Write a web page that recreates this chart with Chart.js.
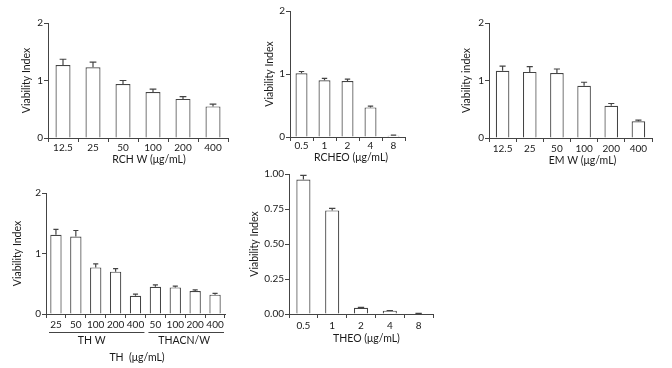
<!DOCTYPE html>
<html><head><meta charset="utf-8">
<script src="https://cdn.jsdelivr.net/npm/chart.js@4.4.1/dist/chart.umd.min.js"></script>
<style>
html,body{margin:0;padding:0;background:#fff;width:672px;height:368px;overflow:hidden}
#wrap{position:relative;width:672px;height:368px}
#wrap canvas{position:absolute;left:0;top:0}
</style></head>
<body>
<div id="wrap"></div>
<script>
// ---------- DATA ----------
// Panel A: RCH W
const rchwLabels = ['12.5','25','50','100','200','400'];
const rchwValues = [1.27, 1.23, 0.94, 0.80, 0.68, 0.55];
const rchwErrors = [0.10, 0.09, 0.06, 0.05, 0.04, 0.04];
// Panel B: RCHEO
const rcheoLabels = ['0.5','1','2','4','8'];
const rcheoValues = [1.01, 0.90, 0.89, 0.47, 0.02];
const rcheoErrors = [0.03, 0.03, 0.03, 0.02, 0.01];
// Panel C: EM W
const emwLabels = ['12.5','25','50','100','200','400'];
const emwValues = [1.17, 1.15, 1.13, 0.91, 0.56, 0.29];
const emwErrors = [0.08, 0.09, 0.07, 0.06, 0.04, 0.02];
// Panel D: TH W and THACN/W
const thLabels = ['25','50','100','200','400','50','100','200','400'];
const thValues = [1.31, 1.28, 0.77, 0.70, 0.30, 0.45, 0.44, 0.38, 0.32];
const thErrors = [0.09, 0.10, 0.06, 0.05, 0.03, 0.03, 0.02, 0.02, 0.02];
const thGroupNames = ['TH W', 'THACN/W'];
const thGroupStart = [0, 5];
const thGroupEnd = [4, 8];
// Panel E: THEO
const theoLabels = ['0.5','1','2','4','8'];
const theoValues = [0.96, 0.74, 0.045, 0.024, 0.003];
const theoErrors = [0.03, 0.015, 0.002, 0.001, 0.001];
// Tick values
const yTicksMain = [0, 1, 2];
const yTicksTheo = [0, 0.25, 0.5, 0.75, 1.0];

// ---------- STYLE ----------
const W = 672, H = 368;
const FAMILY = 'Lato, "Liberation Sans", sans-serif';
const TICKFONT = {family: FAMILY, size: 10, lineHeight: 1.2};
const TITLEFONT = {family: FAMILY, size: 10.5, lineHeight: 1.2};
const TLH = 10.5 * 1.2;
const TICKLH = 10 * 1.2;
const TXT = '#1a1a1a';
const AXIS = '#444';
const XH = 60;
Chart.defaults.font.family = FAMILY;

const errorBarPlugin = {
  id: 'errbars',
  afterDatasetsDraw(chart) {
    const err = chart.options.plugins.errbars.errors;
    const vals = chart.data.datasets[0].data;
    const meta = chart.getDatasetMeta(0);
    const y = chart.scales.y;
    const ctx = chart.ctx;
    ctx.save();
    ctx.strokeStyle = AXIS;
    ctx.lineWidth = 1.2;
    meta.data.forEach((bar, i) => {
      const top = y.getPixelForValue(vals[i] + err[i]);
      const base = y.getPixelForValue(vals[i]);
      const cap = bar.width * 0.45;
      ctx.beginPath();
      ctx.moveTo(bar.x, base);
      ctx.lineTo(bar.x, top);
      ctx.moveTo(bar.x - cap / 2, top);
      ctx.lineTo(bar.x + cap / 2, top);
      ctx.stroke();
    });
    ctx.restore();
  }
};

// x-axis title and group labels (drawn relative to the x scale)
const xTextPlugin = {
  id: 'xtext',
  afterDraw(chart) {
    const o = chart.options.plugins.xtext;
    const x = chart.scales.x;
    const ctx = chart.ctx;
    ctx.save();
    ctx.fillStyle = TXT;
    ctx.strokeStyle = AXIS;
    ctx.lineWidth = 1;
    ctx.font = TITLEFONT.size + 'px ' + FAMILY;
    ctx.textAlign = 'center';
    ctx.textBaseline = 'middle';
    ctx.fillText(o.text, (x.left + x.right) / 2 + o.dx, o.y);
    const g = o.groups;
    if (g && g.names) {
      const cw = x.getPixelForValue(1) - x.getPixelForValue(0);
      g.names.forEach((name, k) => {
        const x0 = x.getPixelForValue(g.start[k]) - cw / 2 + 3;
        const x1 = x.getPixelForValue(g.end[k]) + cw / 2 - 1;
        ctx.beginPath();
        ctx.moveTo(x0, g.lineY + 0.5);
        ctx.lineTo(x1, g.lineY + 0.5);
        ctx.stroke();
        ctx.fillText(name, (x0 + x1) / 2 + g.dx[k], g.textY);
      });
    }
    ctx.restore();
  }
};

function makePanel(p) {
  const c = document.createElement('canvas');
  c.width = W; c.height = H;
  c.style.width = W + 'px'; c.style.height = H + 'px';
  document.getElementById('wrap').appendChild(c);
  const g = p.geo;
  new Chart(c, {
    type: 'bar',
    data: {
      labels: p.labels,
      datasets: [{
        data: p.values,
        backgroundColor: '#ffffff',
        borderColor: AXIS,
        borderWidth: 1.2,
        barPercentage: 1,
        categoryPercentage: p.barRatio
      }]
    },
    options: {
      responsive: false,
      animation: false,
      devicePixelRatio: 1,
      layout: {padding: {left: g.L - g.yW, top: g.T, right: W - g.R, bottom: H - g.B - XH}},
      plugins: {
        legend: {display: false},
        tooltip: {enabled: false},
        errbars: {errors: p.errors},
        xtext: {text: p.xTitle, dx: g.titleDx, y: g.xTitleY, groups: p.groups}
      },
      scales: {
        x: {
          type: 'category',
          offset: true,
          grid: {display: true, offset: true, drawOnChartArea: false, drawTicks: true, tickLength: 4, color: AXIS, lineWidth: 1},
          border: {display: true, color: AXIS, width: 1},
          ticks: {color: TXT, font: TICKFONT, padding: g.tickY - g.B - 4 - TICKLH / 2, maxRotation: 0, autoSkip: false},
          title: {display: false},
          afterFit(s) { s.height = XH; }
        },
        y: {
          min: 0, max: p.yMax,
          afterBuildTicks(s) { s.ticks = p.yTicks.map(v => ({value: v})); },
          grid: {display: true, drawOnChartArea: false, drawTicks: true, tickLength: 4, color: AXIS, lineWidth: 1},
          border: {display: true, color: AXIS, width: 1},
          ticks: {color: TXT, font: TICKFONT, padding: 1,
                  callback: v => p.decimals ? Number(v).toFixed(p.decimals) : String(v)},
          title: {display: true, text: p.yTitle, color: TXT, font: TITLEFONT,
                  padding: {top: g.yTitleX - (g.L - g.yW) - TLH / 2, bottom: 0}},
          afterFit(s) { s.width = g.yW; }
        }
      }
    },
    plugins: [errorBarPlugin, xTextPlugin]
  });
}

makePanel({labels: rchwLabels, values: rchwValues, errors: rchwErrors, yMax: 2, yTicks: yTicksMain,
  xTitle: 'RCH W (μg/mL)', yTitle: 'Viability Index', barRatio: 0.5,
  geo: {L: 48, T: 23, R: 228, B: 138, yW: 40, yTitleX: 26.5, tickY: 147.5, xTitleY: 159.5, titleDx: 11}});
makePanel({labels: rcheoLabels, values: rcheoValues, errors: rcheoErrors, yMax: 2, yTicks: yTicksMain,
  xTitle: 'RCHEO (μg/mL)', yTitle: 'Viability Index', barRatio: 0.52,
  geo: {L: 290, T: 11, R: 405, B: 137, yW: 40, yTitleX: 270, tickY: 146, xTitleY: 157.5, titleDx: 3.5}});
makePanel({labels: emwLabels, values: emwValues, errors: emwErrors, yMax: 2, yTicks: yTicksMain,
  xTitle: 'EM W (μg/mL)', yTitle: 'Viability index', barRatio: 0.5,
  geo: {L: 489, T: 23, R: 652, B: 138, yW: 40, yTitleX: 467, tickY: 148.5, xTitleY: 160.5, titleDx: 12}});
makePanel({labels: thLabels, values: thValues, errors: thErrors, yMax: 2, yTicks: yTicksMain,
  xTitle: 'TH  (μg/mL)', yTitle: 'Viability Index', barRatio: 0.57,
  groups: {names: thGroupNames, start: thGroupStart, end: thGroupEnd, lineY: 332, textY: 341, dx: [-5, -2]},
  geo: {L: 46, T: 193, R: 225, B: 314, yW: 40, yTitleX: 18, tickY: 325, xTitleY: 357.5, titleDx: 1.5}});
makePanel({labels: theoLabels, values: theoValues, errors: theoErrors, yMax: 1, yTicks: yTicksTheo, decimals: 2,
  xTitle: 'THEO (μg/mL)', yTitle: 'Viability Index', barRatio: 0.49,
  geo: {L: 289, T: 174, R: 433, B: 314, yW: 45, yTitleX: 254.5, tickY: 326, xTitleY: 339, titleDx: 5.5}});
</script>
</body></html>
